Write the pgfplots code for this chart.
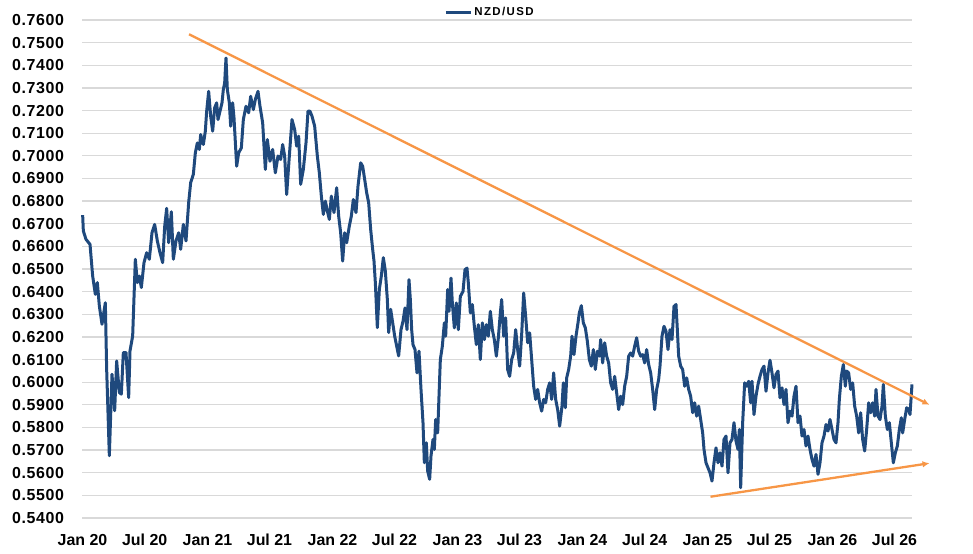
\documentclass[border=0pt]{standalone}
\usepackage{pgfplots}
\pgfplotsset{compat=1.18}
\usepackage{fontspec}
\setmainfont{Liberation Sans}
\usetikzlibrary{arrows.meta}
\definecolor{nzblue}{RGB}{31,73,125}
\definecolor{trendorange}{RGB}{247,150,70}
\definecolor{gridgray}{RGB}{217,217,217}
\begin{document}
\begin{tikzpicture}
\useasboundingbox (0,0) rectangle (973bp,554bp);
\begin{axis}[
  at={(82bp,36bp)}, anchor=south west,
  scale only axis, width=830bp, height=498bp,
  xmin=2019.996, xmax=2026.636, ymin=0.54, ymax=0.76,
  clip=false,
  axis line style={draw=none},
  major tick length=0pt,
  ymajorgrids, major grid style={gridgray, line width=1.3bp},
  ytick={0.54,0.55,0.56,0.57,0.58,0.59,0.60,0.61,0.62,0.63,0.64,0.65,0.66,0.67,0.68,0.69,0.70,0.71,0.72,0.73,0.74,0.75,0.76},
  yticklabels={0.5400,0.5500,0.5600,0.5700,0.5800,0.5900,0.6000,0.6100,0.6200,0.6300,0.6400,0.6500,0.6600,0.6700,0.6800,0.6900,0.7000,0.7100,0.7200,0.7300,0.7400,0.7500,0.7600},
  xtick={2020,2020.4973,2021,2021.4959,2022,2022.4959,2023,2023.4959,2024,2024.4973,2025,2025.4959,2026,2026.4959},
  xticklabels={Jan 20,Jul 20,Jan 21,Jul 21,Jan 22,Jul 22,Jan 23,Jul 23,Jan 24,Jul 24,Jan 25,Jul 25,Jan 26,Jul 26},
  tick label style={font=\bfseries\fontsize{16}{18}\selectfont},
  yticklabel style={xshift=-14.5bp, font=\bfseries\fontsize{16}{18}\selectfont\addfontfeatures{LetterSpace=4}},
  xticklabel style={yshift=-12.5bp},
  legend style={at={(0.4916,1.016)}, anchor=center, draw=none, fill=none,
    font=\bfseries\fontsize{11.5}{13}\selectfont\addfontfeatures{LetterSpace=12}, legend cell align=left},
  legend image code/.code={\draw[#1] (0bp,0bp) -- (25bp,0bp);},
]
\addplot[nzblue, line width=3bp, line join=round] table {
x y
2020.0013 0.6738
2020.0067 0.6668
2020.028 0.6631
2020.060 0.6609
2020.0813 0.6469
2020.1027 0.6388
2020.1187 0.6440
2020.1347 0.6337
2020.156 0.6256
2020.1827 0.6351
2020.1933 0.6057
2020.2147 0.5675
2020.236 0.6035
2020.2573 0.5874
2020.2733 0.6094
2020.2947 0.5954
2020.3107 0.5947
2020.3267 0.6131
2020.348 0.6131
2020.3693 0.5932
2020.38 0.6138
2020.4013 0.6204
2020.4227 0.6543
2020.4387 0.6440
2020.4547 0.6469
2020.4707 0.6418
2020.492 0.6528
2020.5133 0.6572
2020.5347 0.6543
2020.556 0.6660
2020.5773 0.6697
2020.5987 0.6624
2020.62 0.6572
2020.6413 0.6528
2020.6573 0.6687
2020.6733 0.6768
2020.6893 0.6616
2020.7107 0.6753
2020.7267 0.6543
2020.748 0.6624
2020.7693 0.6660
2020.7853 0.6587
2020.8067 0.6697
2020.828 0.6624
2020.8493 0.6793
2020.8653 0.6881
2020.8867 0.6918
2020.9027 0.7013
2020.9187 0.7057
2020.9347 0.7028
2020.9453 0.7094
2020.9667 0.7050
2020.9827 0.7109
2020.9933 0.7197
2021.0093 0.7285
2021.0253 0.7175
2021.0413 0.7109
2021.0573 0.7212
2021.0733 0.7234
2021.084 0.7160
2021.10 0.7197
2021.116 0.7234
2021.1267 0.7293
2021.1373 0.7322
2021.148 0.7432
2021.1587 0.7293
2021.1747 0.7234
2021.1853 0.7131
2021.2013 0.7234
2021.212 0.7168
2021.2333 0.6954
2021.2493 0.7013
2021.2707 0.7035
2021.2867 0.7160
2021.308 0.7219
2021.3293 0.7190
2021.3453 0.7263
2021.3667 0.7204
2021.3827 0.7249
2021.404 0.7285
2021.42 0.7219
2021.4413 0.7146
2021.4627 0.6940
2021.4787 0.7072
2021.5 0.6976
2021.5213 0.7028
2021.5427 0.6925
2021.564 0.6999
2021.5853 0.6984
2021.6013 0.7050
2021.6173 0.6999
2021.6333 0.6829
2021.6547 0.6999
2021.676 0.7160
2021.6973 0.7116
2021.7133 0.7043
2021.7293 0.7087
2021.7453 0.6874
2021.7667 0.6940
2021.788 0.7057
2021.804 0.7197
2021.82 0.7197
2021.836 0.7175
2021.8573 0.7131
2021.8787 0.6999
2021.8947 0.6925
2021.9107 0.6822
2021.9267 0.6741
2021.9427 0.6800
2021.9587 0.6756
2021.9747 0.6719
2021.9907 0.6822
2022.012 0.6749
2022.0333 0.6859
2022.0493 0.6734
2022.0653 0.6660
2022.0813 0.6535
2022.0973 0.6660
2022.1133 0.6616
2022.1347 0.6690
2022.1507 0.6734
2022.1667 0.6807
2022.188 0.6749
2022.204 0.6866
2022.2253 0.6969
2022.2413 0.6954
2022.2573 0.6896
2022.2733 0.6837
2022.2893 0.6793
2022.3053 0.6675
2022.3213 0.6587
2022.332 0.6535
2022.3427 0.6440
2022.3587 0.6241
2022.3747 0.6410
2022.3907 0.6469
2022.4067 0.6550
2022.4227 0.6491
2022.4387 0.6366
2022.4493 0.6219
2022.4653 0.6322
2022.4813 0.6263
2022.4973 0.6204
2022.5133 0.6160
2022.5293 0.6116
2022.548 0.6232
2022.564 0.6269
2022.58 0.6328
2022.596 0.6232
2022.612 0.6453
2022.6227 0.6365
2022.6333 0.6232
2022.644 0.6166
2022.66 0.6144
2022.676 0.6041
2022.692 0.6137
2022.708 0.5968
2022.724 0.5821
2022.7347 0.5644
2022.7507 0.5732
2022.7613 0.5607
2022.7773 0.5571
2022.788 0.5674
2022.804 0.5747
2022.8147 0.5703
2022.8253 0.5835
2022.8413 0.5776
2022.852 0.5938
2022.8627 0.6100
2022.8787 0.6159
2022.8947 0.6262
2022.9053 0.6203
2022.9213 0.6409
2022.932 0.6313
2022.948 0.6460
2022.9587 0.6350
2022.9747 0.6240
2022.9907 0.6350
2023.0067 0.6232
2023.0227 0.6379
2023.044 0.6401
2023.06 0.6497
2023.076 0.6504
2023.0867 0.6438
2023.1027 0.6306
2023.1187 0.6343
2023.1347 0.6247
2023.1507 0.6166
2023.1667 0.6254
2023.1827 0.6100
2023.1987 0.6262
2023.2147 0.6188
2023.2307 0.6254
2023.2467 0.6203
2023.2627 0.6313
2023.2787 0.6232
2023.2947 0.6188
2023.3107 0.6115
2023.3267 0.6196
2023.3427 0.6306
2023.3533 0.6365
2023.3693 0.6203
2023.3853 0.6284
2023.4013 0.6056
2023.4173 0.6026
2023.4333 0.6100
2023.4493 0.6129
2023.4653 0.6232
2023.4813 0.6144
2023.4973 0.6071
2023.5133 0.6210
2023.5293 0.6394
2023.5453 0.6291
2023.5613 0.6174
2023.5773 0.6218
2023.5933 0.6100
2023.6093 0.5982
2023.6253 0.5924
2023.6413 0.5968
2023.6573 0.5909
2023.6733 0.5872
2023.6893 0.5924
2023.7053 0.5909
2023.7213 0.5968
2023.7373 0.5997
2023.7533 0.5924
2023.7693 0.6041
2023.7853 0.5924
2023.8013 0.5879
2023.8173 0.5806
2023.836 0.5894
2023.8467 0.5997
2023.8627 0.5887
2023.8733 0.6019
2023.8893 0.6056
2023.9053 0.6115
2023.916 0.6203
2023.932 0.6122
2023.948 0.6203
2023.964 0.6262
2023.9747 0.6306
2023.9907 0.6338
2024.0067 0.6262
2024.0227 0.6240
2024.0387 0.6181
2024.0547 0.6100
2024.0707 0.6071
2024.0867 0.6144
2024.1027 0.6056
2024.1187 0.6137
2024.1347 0.6115
2024.1453 0.6188
2024.1613 0.6085
2024.1773 0.6174
2024.1933 0.6115
2024.2093 0.6085
2024.2253 0.5997
2024.2413 0.5968
2024.2573 0.6026
2024.2733 0.5953
2024.2893 0.5879
2024.3053 0.5938
2024.3213 0.5901
2024.3373 0.5982
2024.3533 0.6026
2024.3693 0.6115
2024.3853 0.6129
2024.4013 0.6115
2024.4173 0.6159
2024.4333 0.6196
2024.4493 0.6137
2024.4653 0.6115
2024.4813 0.6122
2024.4973 0.6085
2024.5133 0.6144
2024.5293 0.6078
2024.5453 0.6041
2024.5613 0.5968
2024.5773 0.5879
2024.5933 0.5968
2024.6093 0.6012
2024.62 0.6071
2024.636 0.6203
2024.652 0.6247
2024.668 0.6225
2024.684 0.6144
2024.7 0.6232
2024.716 0.6188
2024.732 0.6335
2024.748 0.6343
2024.7587 0.6232
2024.7693 0.6115
2024.7853 0.6071
2024.8013 0.6056
2024.8173 0.5982
2024.8333 0.6019
2024.8493 0.5968
2024.8653 0.5938
2024.8813 0.5865
2024.8973 0.5909
2024.9133 0.5850
2024.9293 0.5894
2024.9453 0.5835
2024.9613 0.5776
2024.972 0.5703
2024.988 0.5644
2025.004 0.5622
2025.02 0.5600
2025.036 0.5563
2025.052 0.5644
2025.068 0.5710
2025.084 0.5644
2025.10 0.5688
2025.116 0.5629
2025.132 0.5747
2025.148 0.5762
2025.164 0.5600
2025.18 0.5732
2025.196 0.5747
2025.212 0.5821
2025.228 0.5740
2025.244 0.5703
2025.2547 0.5791
2025.2653 0.5534
2025.2813 0.5821
2025.2973 0.5997
2025.3133 0.5982
2025.3293 0.6004
2025.3453 0.5909
2025.356 0.6004
2025.372 0.5857
2025.388 0.5938
2025.404 0.5990
2025.42 0.6026
2025.436 0.6056
2025.452 0.6071
2025.468 0.5960
2025.484 0.6041
2025.50 0.6097
2025.516 0.6041
2025.532 0.5975
2025.548 0.6034
2025.564 0.6049
2025.58 0.5931
2025.596 0.5975
2025.612 0.5901
2025.628 0.5968
2025.644 0.5821
2025.66 0.5872
2025.676 0.5850
2025.692 0.5938
2025.708 0.5982
2025.724 0.5821
2025.74 0.5850
2025.756 0.5762
2025.772 0.5791
2025.788 0.5718
2025.804 0.5762
2025.82 0.5703
2025.836 0.5659
2025.852 0.5629
2025.868 0.5681
2025.884 0.5593
2025.90 0.5644
2025.916 0.5732
2025.932 0.5762
2025.948 0.5813
2025.964 0.5784
2025.98 0.5835
2025.996 0.5791
2026.012 0.5747
2026.028 0.5732
2026.044 0.5821
2026.0547 0.5924
2026.0707 0.6026
2026.0867 0.6078
2026.1027 0.5982
2026.1133 0.6049
2026.1293 0.6041
2026.1453 0.5968
2026.1613 0.5997
2026.1773 0.5894
2026.1933 0.5850
2026.2093 0.5776
2026.2253 0.5865
2026.2413 0.5747
2026.2573 0.5696
2026.2733 0.5791
2026.2893 0.5909
2026.3053 0.5865
2026.3213 0.5909
2026.3373 0.5850
2026.348 0.5968
2026.364 0.5850
2026.38 0.5835
2026.396 0.5894
2026.4067 0.5990
2026.4227 0.5850
2026.4387 0.5791
2026.4547 0.5821
2026.4707 0.5732
2026.4867 0.5644
2026.5027 0.5688
2026.5187 0.5718
2026.5347 0.5791
2026.5507 0.5843
2026.5613 0.5776
2026.5773 0.5835
2026.5933 0.5887
2026.6093 0.5879
2026.62 0.5857
2026.636 0.5990
};
\addlegendentry{NZD/USD}
\addplot[trendorange, line width=2.3bp, -{Latex[length=7bp,width=6.5bp]}, forget plot] coordinates {(2020.852,0.7537) (2026.776,0.5900)};
\addplot[trendorange, line width=2.3bp, -{Latex[length=7bp,width=6.5bp]}, forget plot] coordinates {(2025.024,0.5494) (2026.776,0.5642)};
\end{axis}
\end{tikzpicture}
\end{document}
